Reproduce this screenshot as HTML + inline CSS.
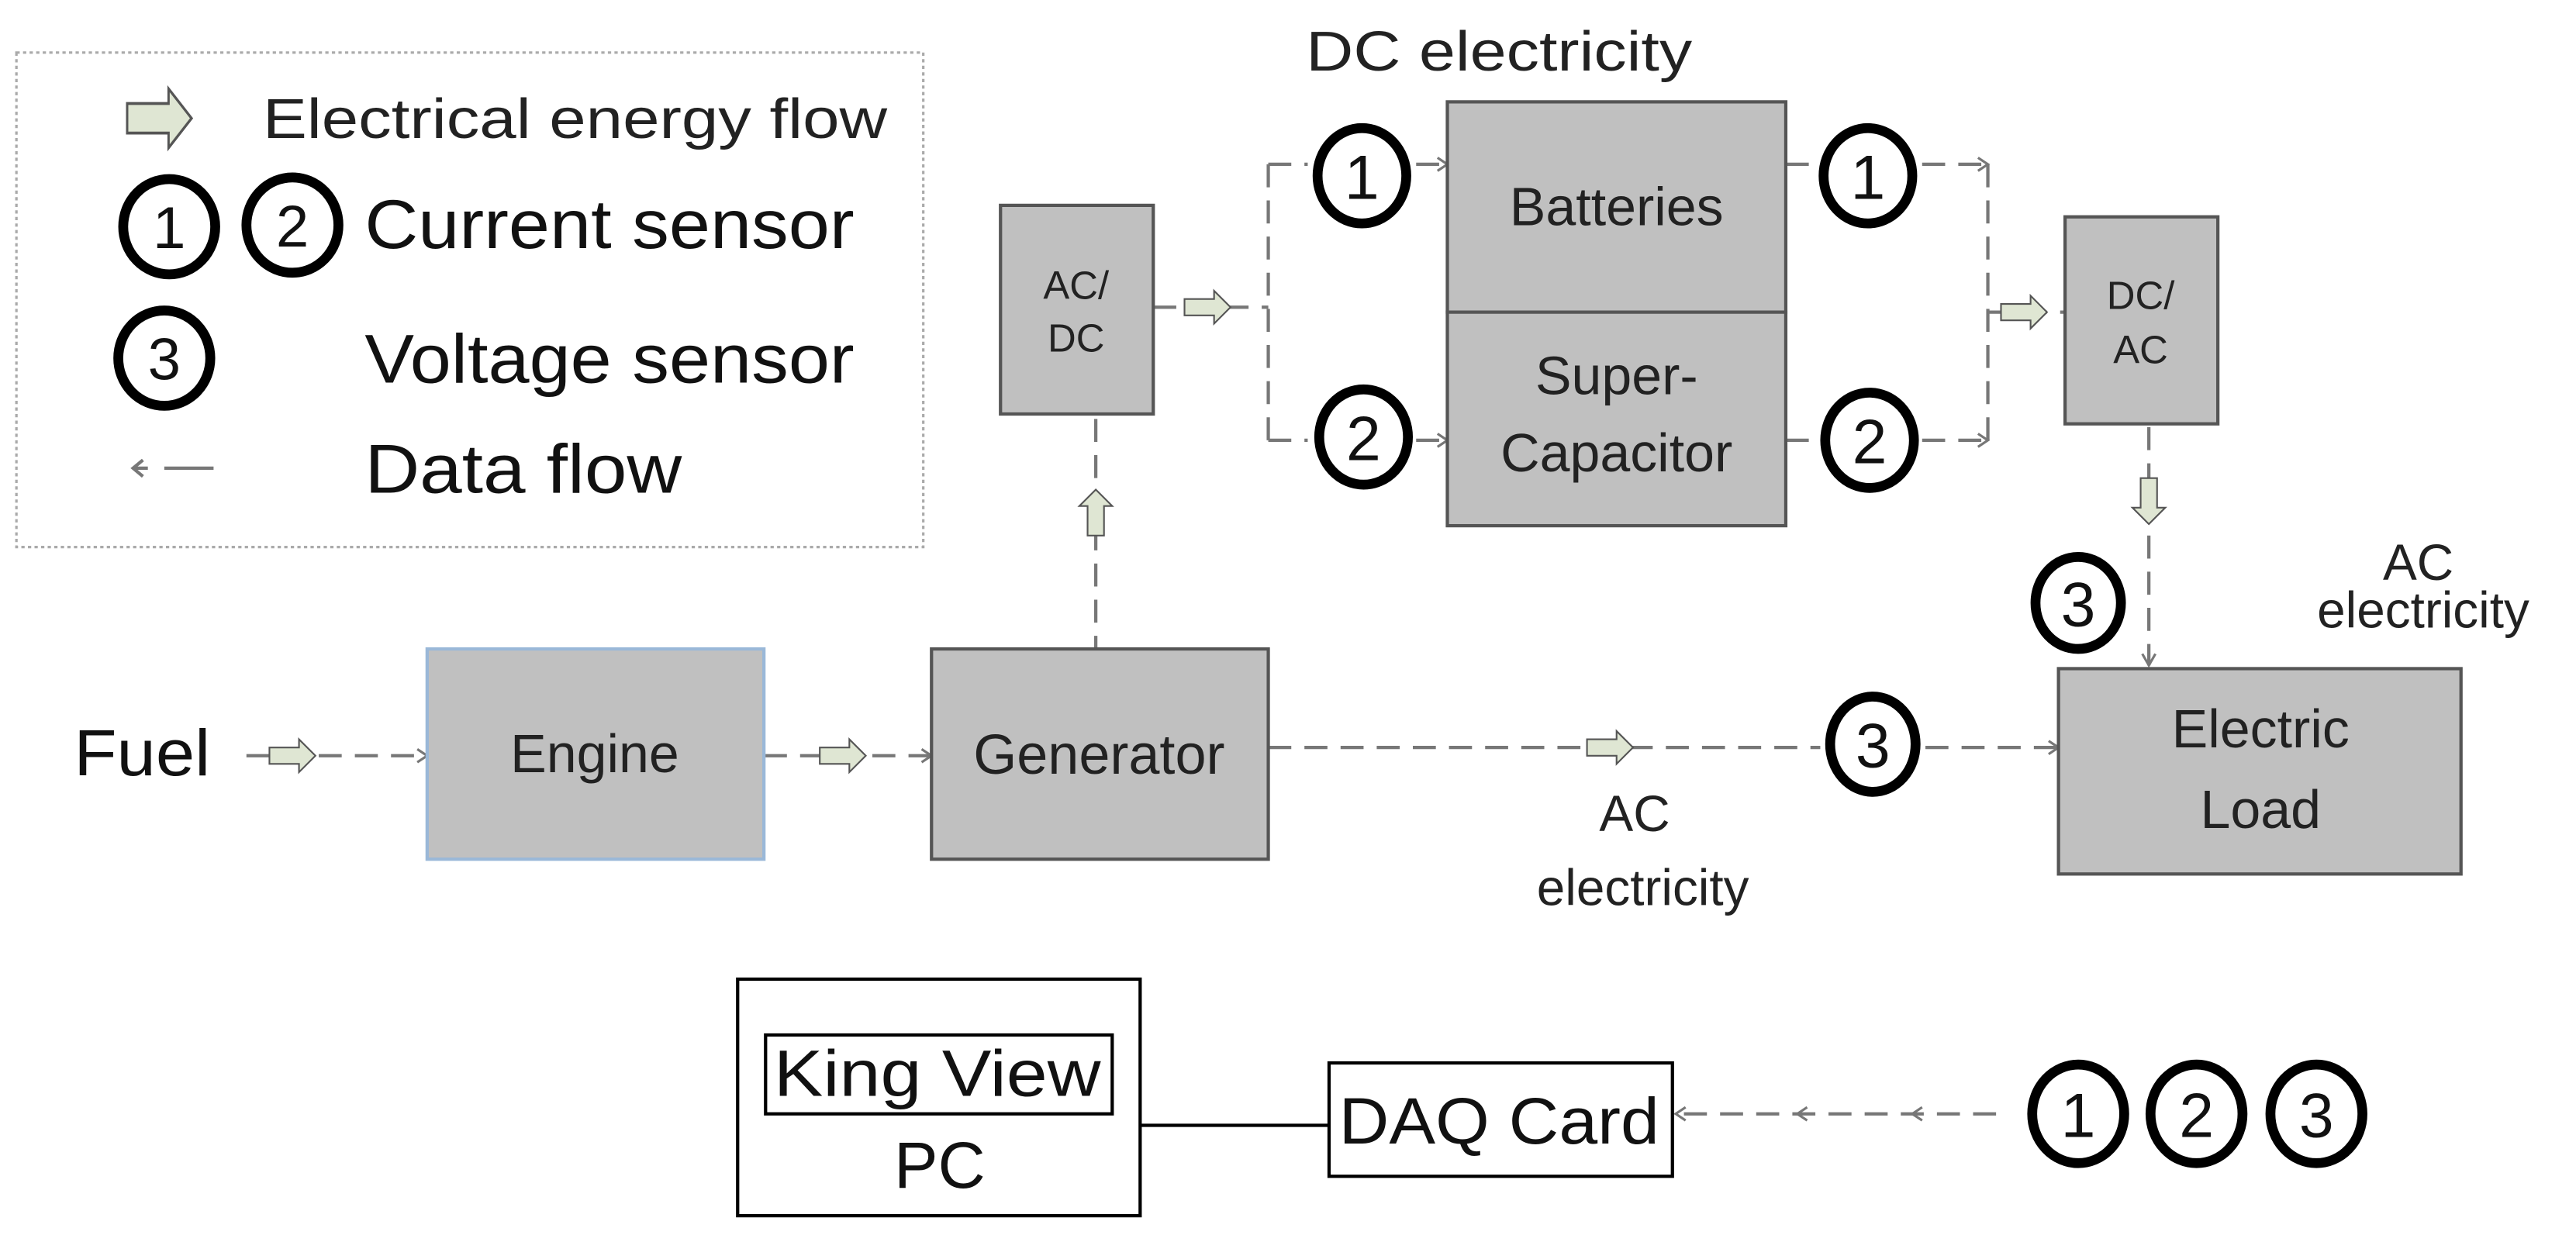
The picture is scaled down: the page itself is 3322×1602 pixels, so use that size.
<!DOCTYPE html>
<html><head><meta charset="utf-8"><style>
html,body{margin:0;padding:0;background:#fff;}
svg{display:block;}
.a{font-family:"Liberation Sans",sans-serif;fill:#222;}
.c{font-family:"Liberation Sans",sans-serif;fill:#111;}
</style></head><body>
<svg width="3322" height="1602" viewBox="0 0 1568 756" preserveAspectRatio="none" xmlns="http://www.w3.org/2000/svg">
<defs>
<g id="fa"><path d="M-14,-5 L4,-5 L4,-10 L14,0 L4,10 L4,5 L-14,5 Z" fill="#dfe6d3" stroke="#555" stroke-width="1"/></g>
<g id="sa"><path d="M-6,-4 L0,0 L-6,4" fill="none" stroke="#777" stroke-width="1.5"/></g>
</defs>
<!-- legend -->
<rect x="10" y="32" width="552" height="301" fill="#fff" stroke="#aaa" stroke-width="1.5" stroke-dasharray="2,2"/>
<use href="#fa" transform="translate(97,72) scale(1.4,1.8)"/>
<text class="a" x="160" y="84" font-size="34" textLength="380" lengthAdjust="spacingAndGlyphs">Electrical energy flow</text>
<g fill="none" stroke="#000" stroke-width="6">
<ellipse cx="103" cy="138" rx="28" ry="29"/><ellipse cx="178" cy="137" rx="28" ry="29"/>
<ellipse cx="100" cy="218" rx="28" ry="29"/>
</g>
<text class="c" x="103" y="151" font-size="36" text-anchor="middle">1</text>
<text class="c" x="178" y="150" font-size="36" text-anchor="middle">2</text>
<text class="c" x="100" y="231" font-size="36" text-anchor="middle">3</text>
<text class="c" x="222" y="151" font-size="42" textLength="298" lengthAdjust="spacingAndGlyphs">Current sensor</text>
<text class="c" x="222" y="233" font-size="42" textLength="298" lengthAdjust="spacingAndGlyphs">Voltage sensor</text>
<text class="c" x="222" y="300" font-size="42" textLength="193" lengthAdjust="spacingAndGlyphs">Data flow</text>
<path d="M87,280 L81,285 L87,290 M81,285 L90,285 M100,285 L130,285" fill="none" stroke="#777" stroke-width="2"/>

<!-- dashed connectors -->
<g fill="none" stroke="#777" stroke-width="2" stroke-dasharray="14,8">
<path d="M702,187 L772,187"/>
<path d="M772,100 L772,268"/>
<path d="M772,100 L796,100 M862,100 L881,100"/>
<path d="M772,268 L796,268 M862,268 L881,268"/>
<path d="M1087,100 L1106,100 M1170,100 L1210,100"/>
<path d="M1087,268 L1106,268 M1170,268 L1210,268"/>
<path d="M1210,100 L1210,268"/>
<path d="M1210,190 L1257,190"/>
<path d="M1308,260 L1308,405"/>
<path d="M667,255 L667,395"/>
<path d="M150,460 L260,460"/>
<path d="M465,460 L567,460"/>
<path d="M772,455 L1108,455 M1172,455 L1253,455"/>
<path d="M1215,678 L1020,678"/>
</g>
<use href="#sa" x="881" y="100"/><use href="#sa" x="881" y="268"/>
<use href="#sa" x="1210" y="100"/><use href="#sa" x="1210" y="268"/>
<use href="#sa" x="1253" y="455"/><use href="#sa" x="260" y="460"/><use href="#sa" x="567" y="460"/>
<path d="M1304,398 L1308,405 L1312,398" fill="none" stroke="#777" stroke-width="1.5"/>
<path d="M1026,674 L1020,678 L1026,682 M1100,674 L1094,678 L1100,682 M1170,674 L1164,678 L1170,682" fill="none" stroke="#777" stroke-width="1.5"/>
<use href="#fa" x="735" y="187"/>
<use href="#fa" x="1232" y="190"/>
<use href="#fa" x="178" y="460"/>
<use href="#fa" x="513" y="460"/>
<use href="#fa" x="980" y="455"/>
<use href="#fa" transform="translate(1308,305) rotate(90)"/>
<use href="#fa" transform="translate(667,312) rotate(-90)"/>

<!-- boxes -->
<g fill="#c0c0c0" stroke="#555" stroke-width="2">
<rect x="609" y="125" width="93" height="127"/>
<rect x="881" y="62" width="206" height="128"/>
<rect x="881" y="190" width="206" height="130"/>
<rect x="1257" y="132" width="93" height="126"/>
<rect x="1253" y="407" width="245" height="125"/>
<rect x="567" y="395" width="205" height="128"/>
</g>
<rect x="260" y="395" width="205" height="128" fill="#c0c0c0" stroke="#9ab8d8" stroke-width="2"/>
<g class="a" text-anchor="middle">
<text x="655" y="182" font-size="24">AC/</text><text x="655" y="214" font-size="24">DC</text>
<text x="1303" y="188" font-size="24">DC/</text><text x="1303" y="221" font-size="24">AC</text>
<text x="984" y="137" font-size="33">Batteries</text>
<text x="984" y="240" font-size="33">Super-</text>
<text x="984" y="287" font-size="33">Capacitor</text>
<text x="1376" y="455" font-size="33">Electric</text>
<text x="1376" y="504" font-size="33">Load</text>
<text x="362" y="470" font-size="33">Engine</text>
<text x="669" y="471" font-size="34">Generator</text>
<text x="995" y="506" font-size="31">AC</text>
<text x="1000" y="551" font-size="31">electricity</text>
<text x="1472" y="353" font-size="31">AC</text>
<text x="1475" y="382" font-size="31">electricity</text>
</g>
<text class="a" x="795" y="43" font-size="34" textLength="235" lengthAdjust="spacingAndGlyphs">DC electricity</text>
<text class="c" x="45" y="472" font-size="40" textLength="83" lengthAdjust="spacingAndGlyphs">Fuel</text>

<!-- sensor circles -->
<g fill="#fff" stroke="#000" stroke-width="6">
<ellipse cx="829" cy="107" rx="27" ry="29"/>
<ellipse cx="830" cy="266" rx="27" ry="29"/>
<ellipse cx="1137" cy="107" rx="27" ry="29"/>
<ellipse cx="1138" cy="268" rx="27" ry="29"/>
<ellipse cx="1265" cy="367" rx="26" ry="28"/>
<ellipse cx="1140" cy="453" rx="26" ry="29"/>
<ellipse cx="1265" cy="678" rx="28" ry="30"/>
<ellipse cx="1337" cy="678" rx="28" ry="30"/>
<ellipse cx="1410" cy="678" rx="28" ry="30"/>
</g>
<g class="c" text-anchor="middle" font-size="38">
<text x="829" y="121">1</text><text x="830" y="280">2</text>
<text x="1137" y="121">1</text><text x="1138" y="282">2</text>
<text x="1265" y="381">3</text><text x="1140" y="467">3</text>
<text x="1265" y="692">1</text><text x="1337" y="692">2</text><text x="1410" y="692">3</text>
</g>

<!-- PC / DAQ -->
<rect x="449" y="596" width="245" height="144" fill="#fff" stroke="#000" stroke-width="2"/>
<rect x="466" y="630" width="211" height="48" fill="#fff" stroke="#000" stroke-width="2"/>
<rect x="809" y="647" width="209" height="69" fill="#fff" stroke="#000" stroke-width="2"/>
<line x1="694" y1="685" x2="809" y2="685" stroke="#000" stroke-width="2"/>
<g class="c" font-size="40">
<text x="471" y="667" textLength="199" lengthAdjust="spacingAndGlyphs">King View</text>
<text x="572" y="723" text-anchor="middle">PC</text>
<text x="815" y="696" textLength="195" lengthAdjust="spacingAndGlyphs">DAQ Card</text>
</g>
</svg>
</body></html>
